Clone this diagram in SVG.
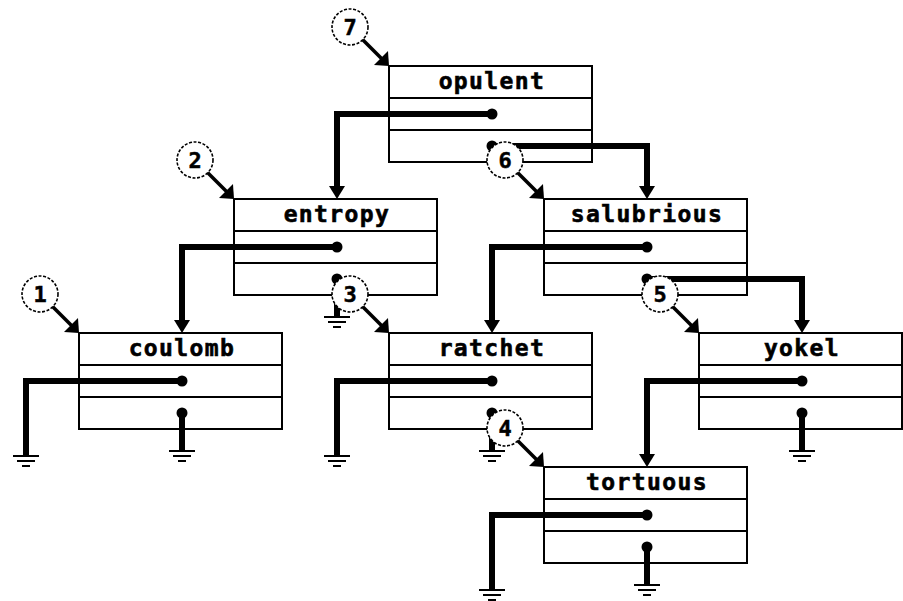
<svg xmlns="http://www.w3.org/2000/svg" xmlns:xlink="http://www.w3.org/1999/xlink" width="903" height="601" viewBox="0 0 903 601">
<style>
.box{fill:none;stroke:#000;stroke-width:2}
.div{stroke:#000;stroke-width:2}
.name{font-family:"DejaVu Sans Mono","Liberation Mono",monospace;font-weight:bold;font-size:23px;letter-spacing:1.4px;text-anchor:middle;fill:#000;stroke:#000;stroke-width:0.6}
.ptr{fill:none;stroke:#000;stroke-width:6;stroke-linejoin:miter}
.dot{fill:#000}
.gnd{stroke:#000;stroke-width:2}
.badge{fill:#fff;stroke:#000;stroke-width:1.6;stroke-dasharray:3 1.6}
.num{font-family:"DejaVu Sans Mono","Liberation Mono",monospace;font-weight:bold;font-size:22px;text-anchor:middle;fill:#000;stroke:#000;stroke-width:0.5}
.diag{stroke:#000;stroke-width:3.5}
</style>
<defs>
<path id="ahDown" d="M0,0 L-8,-13 L8,-13 Z" fill="#000"/>
<path id="ahDiag" d="M0,0 L-15,-1 L-1,-15 Z" fill="#000"/>
<g id="ground"><line class="gnd" x1="-13" y1="0" x2="13" y2="0"/><line class="gnd" x1="-9" y1="5" x2="9" y2="5"/><line class="gnd" x1="-4" y1="10" x2="4" y2="10"/></g>
</defs>
<g id="connectors">
<path class="ptr" d="M492,114 H337 V188"/><use xlink:href="#ahDown" x="337" y="199"/>
<path class="ptr" d="M337,247 H182 V322"/><use xlink:href="#ahDown" x="182" y="333"/>
<path class="ptr" d="M647,247 H492 V322"/><use xlink:href="#ahDown" x="492" y="333"/>
<path class="ptr" d="M802,381 H647 V456"/><use xlink:href="#ahDown" x="647" y="467"/>
<path class="ptr" d="M182,381 H26 V456"/><use xlink:href="#ground" x="26" y="456"/>
<path class="ptr" d="M492,381 H337 V456"/><use xlink:href="#ground" x="337" y="456"/>
<path class="ptr" d="M647,515 H492 V590"/><use xlink:href="#ground" x="492" y="590"/>
<path class="ptr" d="M492,146 H647 V188"/><use xlink:href="#ahDown" x="647" y="199"/>
<path class="ptr" d="M647,279 H802 V322"/><use xlink:href="#ahDown" x="802" y="333"/>
<path class="ptr" d="M337,279 V317"/><use xlink:href="#ground" x="337" y="317"/>
<path class="ptr" d="M182,413 V451"/><use xlink:href="#ground" x="182" y="451"/>
<path class="ptr" d="M492,413 V451"/><use xlink:href="#ground" x="492" y="451"/>
<path class="ptr" d="M802,413 V451"/><use xlink:href="#ground" x="802" y="451"/>
<path class="ptr" d="M647,547 V585"/><use xlink:href="#ground" x="647" y="585"/>
<circle class="dot" cx="492" cy="114" r="5.5"/><circle class="dot" cx="492" cy="146" r="5.5"/>
<circle class="dot" cx="337" cy="247" r="5.5"/><circle class="dot" cx="337" cy="279" r="5.5"/>
<circle class="dot" cx="647" cy="247" r="5.5"/><circle class="dot" cx="647" cy="279" r="5.5"/>
<circle class="dot" cx="182" cy="381" r="5.5"/><circle class="dot" cx="182" cy="413" r="5.5"/>
<circle class="dot" cx="492" cy="381" r="5.5"/><circle class="dot" cx="492" cy="413" r="5.5"/>
<circle class="dot" cx="802" cy="381" r="5.5"/><circle class="dot" cx="802" cy="413" r="5.5"/>
<circle class="dot" cx="647" cy="515" r="5.5"/><circle class="dot" cx="647" cy="547" r="5.5"/>
</g>
<g id="node-opulent">
<rect class="box" x="389" y="66" width="203" height="96"/><line class="div" x1="389" y1="98" x2="592" y2="98"/><line class="div" x1="389" y1="130" x2="592" y2="130"/>
<text class="name" x="492" y="89">opulent</text>
<line class="diag" x1="362" y1="39" x2="382" y2="59"/><use xlink:href="#ahDiag" x="389" y="66"/>
<circle class="badge" cx="350" cy="27" r="18"/><text class="num" x="350" y="35">7</text>
</g>
<g id="node-entropy">
<rect class="box" x="234" y="199" width="203" height="96"/><line class="div" x1="234" y1="231" x2="437" y2="231"/><line class="div" x1="234" y1="263" x2="437" y2="263"/>
<text class="name" x="337" y="222">entropy</text>
<line class="diag" x1="207" y1="172" x2="227" y2="192"/><use xlink:href="#ahDiag" x="234" y="199"/>
<circle class="badge" cx="195" cy="160" r="18"/><text class="num" x="195" y="168">2</text>
</g>
<g id="node-salubrious">
<rect class="box" x="544" y="199" width="203" height="96"/><line class="div" x1="544" y1="231" x2="747" y2="231"/><line class="div" x1="544" y1="263" x2="747" y2="263"/>
<text class="name" x="647" y="222">salubrious</text>
<line class="diag" x1="517" y1="172" x2="537" y2="192"/><use xlink:href="#ahDiag" x="544" y="199"/>
<circle class="badge" cx="505" cy="160" r="18"/><text class="num" x="505" y="168">6</text>
</g>
<g id="node-coulomb">
<rect class="box" x="79" y="333" width="203" height="96"/><line class="div" x1="79" y1="365" x2="282" y2="365"/><line class="div" x1="79" y1="397" x2="282" y2="397"/>
<text class="name" x="182" y="356">coulomb</text>
<line class="diag" x1="52" y1="306" x2="72" y2="326"/><use xlink:href="#ahDiag" x="79" y="333"/>
<circle class="badge" cx="40" cy="294" r="18"/><text class="num" x="40" y="302">1</text>
</g>
<g id="node-ratchet">
<rect class="box" x="389" y="333" width="203" height="96"/><line class="div" x1="389" y1="365" x2="592" y2="365"/><line class="div" x1="389" y1="397" x2="592" y2="397"/>
<text class="name" x="492" y="356">ratchet</text>
<line class="diag" x1="362" y1="306" x2="382" y2="326"/><use xlink:href="#ahDiag" x="389" y="333"/>
<circle class="badge" cx="350" cy="294" r="18"/><text class="num" x="350" y="302">3</text>
</g>
<g id="node-yokel">
<rect class="box" x="699" y="333" width="203" height="96"/><line class="div" x1="699" y1="365" x2="902" y2="365"/><line class="div" x1="699" y1="397" x2="902" y2="397"/>
<text class="name" x="802" y="356">yokel</text>
<line class="diag" x1="672" y1="306" x2="692" y2="326"/><use xlink:href="#ahDiag" x="699" y="333"/>
<circle class="badge" cx="660" cy="294" r="18"/><text class="num" x="660" y="302">5</text>
</g>
<g id="node-tortuous">
<rect class="box" x="544" y="467" width="203" height="96"/><line class="div" x1="544" y1="499" x2="747" y2="499"/><line class="div" x1="544" y1="531" x2="747" y2="531"/>
<text class="name" x="647" y="490">tortuous</text>
<line class="diag" x1="517" y1="440" x2="537" y2="460"/><use xlink:href="#ahDiag" x="544" y="467"/>
<circle class="badge" cx="505" cy="428" r="18"/><text class="num" x="505" y="436">4</text>
</g>
</svg>
